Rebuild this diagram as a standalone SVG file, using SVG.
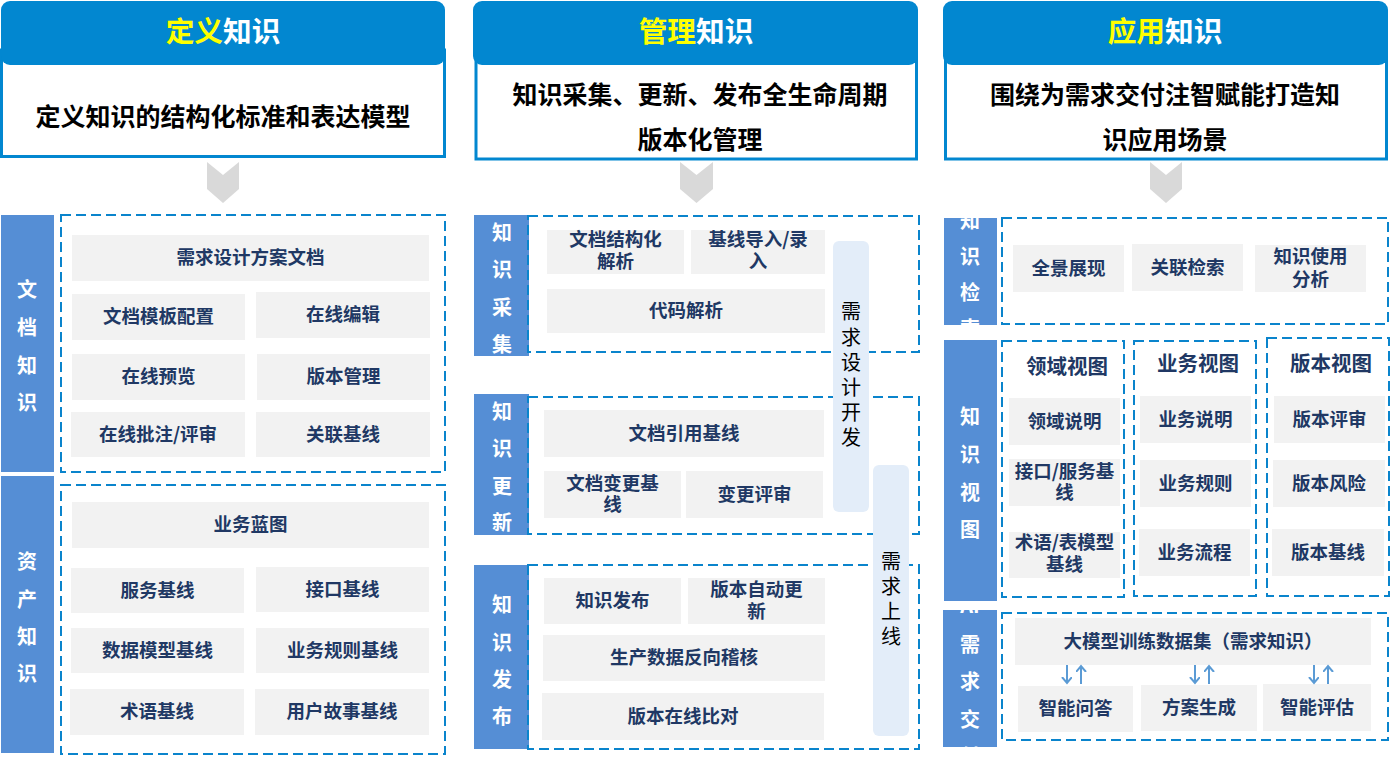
<svg xmlns="http://www.w3.org/2000/svg" width="1395" height="773" viewBox="0 0 1395 773">
<style>
text{font-family:"Noto Sans CJK SC","Noto Sans",sans-serif;transform:translateY(-2px)}
.hdr{fill:#0287D0}
.sub{fill:#fff;stroke:#0287D0;stroke-width:3}
.ttl{font-size:28.7px;font-weight:bold;fill:#fff;text-anchor:middle;dominant-baseline:central}
.yl{fill:#FFFF00}
.st{font-size:25px;font-weight:bold;fill:#000;text-anchor:middle;dominant-baseline:central}
.chev{fill:#D9D9D9}
.bar{fill:#558ED5}
.bt{font-size:20px;font-weight:bold;fill:#fff;text-anchor:middle;dominant-baseline:central}
.dash{fill:none;stroke:#0A84CC;stroke-width:2;stroke-dasharray:10 5}
.box{fill:#F2F2F2}
.bx{font-size:18.5px;font-weight:bold;fill:#203864;text-anchor:middle;dominant-baseline:central}
.vh{font-size:20.5px;font-weight:bold;fill:#203864;text-anchor:middle;dominant-baseline:central}
.lb{fill:#E3EDF9}
.lt{font-size:20px;fill:#000;text-anchor:middle;dominant-baseline:central}
.arr{stroke:#5B9BD5;stroke-width:2;fill:none;marker-end:url(#ah)}
</style>
<defs>
<marker id="ah" markerUnits="userSpaceOnUse" markerWidth="12" markerHeight="12" refX="6" refY="5" orient="auto">
<path d="M0,0 L6,5 L0,10" fill="none" stroke="#5B9BD5" stroke-width="2"/>
</marker>
<clipPath id="c1"><rect x="474" y="217" width="55" height="141"/></clipPath>
<clipPath id="c2"><rect x="944" y="220" width="53" height="107"/></clipPath>
<clipPath id="c3"><rect x="943" y="612" width="54" height="137"/></clipPath>
</defs>
<rect width="1395" height="773" fill="#fff"/>

<!-- Column 1 header -->
<g id="define-header">
<rect class="sub" x="1.5" y="50" width="443" height="106.5"/>
<rect class="hdr" x="1" y="1" width="444" height="64" rx="9"/>
<text class="ttl" x="223" y="31"><tspan class="yl">定义</tspan>知识</text>
<text class="st" x="223" y="117">定义知识的结构化标准和表达模型</text>
</g>
<polygon id="chev1" class="chev" points="207,162 223,175 239,162 239,189 223,203 207,189"/>

<!-- Column 2 header -->
<g id="manage-header">
<rect class="sub" x="476" y="50" width="440.5" height="109"/>
<rect class="hdr" x="473" y="1" width="445" height="64" rx="9"/>
<text class="ttl" x="696" y="31"><tspan class="yl">管理</tspan>知识</text>
<text class="st" x="700" y="95">知识采集、更新、发布全生命周期</text>
<text class="st" x="700" y="140">版本化管理</text>
</g>
<polygon id="chev2" class="chev" points="680,162 696.5,175 713,162 713,189 696.5,203 680,189"/>

<!-- Column 3 header -->
<g id="apply-header">
<rect class="sub" x="945.5" y="50" width="441" height="109"/>
<rect class="hdr" x="943" y="1" width="445" height="64" rx="9"/>
<text class="ttl" x="1165" y="31"><tspan class="yl">应用</tspan>知识</text>
<text class="st" x="1165" y="95">围绕为需求交付注智赋能打造知</text>
<text class="st" x="1165" y="140">识应用场景</text>
</g>
<polygon id="chev3" class="chev" points="1150,162 1166,175 1182,162 1182,189 1166,203 1150,189"/>

<!-- 文档知识 -->
<g id="doc-knowledge">
<rect class="bar" x="1" y="215" width="53" height="257"/>
<text class="bt" x="27"><tspan x="27" y="290">文</tspan><tspan x="27" y="328">档</tspan><tspan x="27" y="366">知</tspan><tspan x="27" y="403">识</tspan></text>
<rect class="dash" x="61" y="215" width="384" height="257"/>
<rect class="box" x="72" y="235" width="357" height="46"/><text class="bx" x="250.5" y="258">需求设计方案文档</text>
<rect class="box" x="72" y="294" width="173" height="46"/><text class="bx" x="158.5" y="317">文档模板配置</text>
<rect class="box" x="256" y="292" width="174" height="46"/><text class="bx" x="343" y="315">在线编辑</text>
<rect class="box" x="72" y="354" width="173" height="46"/><text class="bx" x="158.5" y="377">在线预览</text>
<rect class="box" x="257" y="354" width="173" height="46"/><text class="bx" x="343.5" y="377">版本管理</text>
<rect class="box" x="71" y="412" width="174" height="45"/><text class="bx" x="158" y="434.5">在线批注/评审</text>
<rect class="box" x="256" y="412" width="174" height="45"/><text class="bx" x="343" y="434.5">关联基线</text>
</g>

<!-- 资产知识 -->
<g id="asset-knowledge">
<rect class="bar" x="1" y="476" width="53" height="277"/>
<text class="bt" x="27"><tspan x="27" y="562">资</tspan><tspan x="27" y="600">产</tspan><tspan x="27" y="637">知</tspan><tspan x="27" y="674">识</tspan></text>
<rect class="dash" x="61" y="485" width="384" height="269"/>
<rect class="box" x="72" y="502" width="357" height="46"/><text class="bx" x="250.5" y="525">业务蓝图</text>
<rect class="box" x="71" y="568" width="173" height="45"/><text class="bx" x="157.5" y="590.5">服务基线</text>
<rect class="box" x="256" y="567" width="173" height="45"/><text class="bx" x="342.5" y="589.5">接口基线</text>
<rect class="box" x="71" y="628" width="173" height="45"/><text class="bx" x="157.5" y="650.5">数据模型基线</text>
<rect class="box" x="256" y="628" width="173" height="45"/><text class="bx" x="342.5" y="650.5">业务规则基线</text>
<rect class="box" x="70" y="689" width="174" height="46"/><text class="bx" x="157" y="712">术语基线</text>
<rect class="box" x="255" y="689" width="174" height="46"/><text class="bx" x="342" y="712">用户故事基线</text>
</g>

<!-- 知识采集 -->
<g id="collect">
<rect class="bar" x="474" y="215" width="55" height="141"/>
<text class="bt" clip-path="url(#c1)"><tspan x="502" y="233">知</tspan><tspan x="502" y="270">识</tspan><tspan x="502" y="308">采</tspan><tspan x="502" y="345">集</tspan></text>
<rect class="dash" x="528" y="216" width="391" height="136"/>
<rect class="box" x="547" y="230" width="137" height="44"/><text class="bx"><tspan x="615.5" y="240">文档结构化</tspan><tspan x="615.5" y="262">解析</tspan></text>
<rect class="box" x="691" y="230" width="134" height="44"/><text class="bx"><tspan x="758" y="240">基线导入/录</tspan><tspan x="758" y="262">入</tspan></text>
<rect class="box" x="547" y="289" width="278" height="44"/><text class="bx" x="686" y="311">代码解析</text>
</g>

<!-- 知识更新 -->
<g id="update">
<rect class="bar" x="474" y="394" width="55" height="141"/>
<text class="bt"><tspan x="502" y="412">知</tspan><tspan x="502" y="449">识</tspan><tspan x="502" y="487">更</tspan><tspan x="502" y="523">新</tspan></text>
<rect class="dash" x="528" y="397" width="391" height="137"/>
<rect class="box" x="544" y="410" width="280" height="47"/><text class="bx" x="684" y="433.5">文档引用基线</text>
<rect class="box" x="544" y="471" width="137" height="47"/><text class="bx"><tspan x="612.5" y="484">文档变更基</tspan><tspan x="612.5" y="505">线</tspan></text>
<rect class="box" x="686" y="471" width="137" height="47"/><text class="bx" x="754.5" y="494.5">变更评审</text>
</g>

<!-- 知识发布 -->
<g id="publish">
<rect class="bar" x="474" y="565" width="55" height="184"/>
<text class="bt"><tspan x="502" y="605">知</tspan><tspan x="502" y="643">识</tspan><tspan x="502" y="680">发</tspan><tspan x="502" y="717">布</tspan></text>
<rect class="dash" x="528" y="565" width="391" height="184"/>
<rect class="box" x="544" y="578" width="137" height="46"/><text class="bx" x="612.5" y="601">知识发布</text>
<rect class="box" x="688" y="578" width="137" height="46"/><text class="bx"><tspan x="756.5" y="590">版本自动更</tspan><tspan x="756.5" y="612">新</tspan></text>
<rect class="box" x="543" y="635" width="282" height="46"/><text class="bx" x="684" y="658">生产数据反向稽核</text>
<rect class="box" x="542" y="693" width="282" height="47"/><text class="bx" x="683" y="716.5">版本在线比对</text>
</g>

<!-- 需求设计开发 / 需求上线 -->
<g id="req-dev">
<rect class="lb" x="833" y="241" width="36" height="271" rx="6"/>
<text class="lt"><tspan x="851" y="312">需</tspan><tspan x="851" y="338">求</tspan><tspan x="851" y="363">设</tspan><tspan x="851" y="388">计</tspan><tspan x="851" y="413">开</tspan><tspan x="851" y="438">发</tspan></text>
</g>
<g id="req-online">
<rect class="lb" x="873" y="465" width="36" height="271" rx="6"/>
<text class="lt"><tspan x="891" y="562">需</tspan><tspan x="891" y="587">求</tspan><tspan x="891" y="612">上</tspan><tspan x="891" y="637">线</tspan></text>
</g>

<!-- 知识检索 -->
<g id="search">
<rect class="bar" x="944" y="218" width="53" height="107"/>
<text class="bt" clip-path="url(#c2)"><tspan x="970" y="221">知</tspan><tspan x="970" y="257">识</tspan><tspan x="970" y="293">检</tspan><tspan x="970" y="329">索</tspan></text>
<rect class="dash" x="1002" y="218" width="386" height="106"/>
<rect class="box" x="1013" y="245" width="111" height="47"/><text class="bx" x="1068.5" y="268.5">全景展现</text>
<rect class="box" x="1132" y="244" width="111" height="47"/><text class="bx" x="1187.5" y="267.5">关联检索</text>
<rect class="box" x="1255" y="245" width="111" height="47"/><text class="bx"><tspan x="1310.5" y="257">知识使用</tspan><tspan x="1310.5" y="280">分析</tspan></text>
</g>

<!-- 知识视图 -->
<g id="views">
<rect class="bar" x="944" y="340" width="53" height="261"/>
<text class="bt"><tspan x="970" y="417">知</tspan><tspan x="970" y="455">识</tspan><tspan x="970" y="493">视</tspan><tspan x="970" y="530">图</tspan></text>
</g>
<g id="domain-view">
<rect class="dash" x="1002" y="341" width="122" height="256"/>
<text class="vh" x="1067" y="367">领域视图</text>
<rect class="box" x="1009" y="398" width="111" height="47"/><text class="bx" x="1064.5" y="421.5">领域说明</text>
<rect class="box" x="1009" y="459" width="111" height="47"/><text class="bx"><tspan x="1064.5" y="472">接口/服务基</tspan><tspan x="1064.5" y="493">线</tspan></text>
<rect class="box" x="1009" y="532" width="111" height="46"/><text class="bx"><tspan x="1064.5" y="543">术语/表模型</tspan><tspan x="1064.5" y="565">基线</tspan></text>
</g>
<g id="business-view">
<rect class="dash" x="1134" y="341" width="122" height="255"/>
<text class="vh" x="1198" y="364">业务视图</text>
<rect class="box" x="1140" y="396" width="111" height="47"/><text class="bx" x="1195.5" y="419.5">业务说明</text>
<rect class="box" x="1140" y="460" width="111" height="47"/><text class="bx" x="1195.5" y="483.5">业务规则</text>
<rect class="box" x="1139" y="529" width="111" height="47"/><text class="bx" x="1194.5" y="552.5">业务流程</text>
</g>
<g id="version-view">
<rect class="dash" x="1267" y="338" width="122" height="258"/>
<text class="vh" x="1331" y="364">版本视图</text>
<rect class="box" x="1274" y="396" width="111" height="47"/><text class="bx" x="1329.5" y="419.5">版本评审</text>
<rect class="box" x="1273" y="460" width="112" height="47"/><text class="bx" x="1329" y="483.5">版本风险</text>
<rect class="box" x="1272" y="529" width="112" height="47"/><text class="bx" x="1328" y="552.5">版本基线</text>
</g>

<!-- AI需求交付 -->
<g id="ai-delivery">
<rect class="bar" x="943" y="610" width="54" height="137"/>
<text class="bt" clip-path="url(#c3)"><tspan x="970" y="606">AI</tspan><tspan x="970" y="645">需</tspan><tspan x="970" y="682">求</tspan><tspan x="970" y="720">交</tspan><tspan x="970" y="757">付</tspan></text>
<rect class="dash" x="1002" y="613" width="386" height="127"/>
</g>
<g id="dataset">
<rect class="box" x="1015" y="618" width="356" height="47"/><text class="bx" x="1193" y="641.5">大模型训练数据集（需求知识）</text>
</g>
<g id="qa">
<rect class="box" x="1018" y="686" width="115" height="46"/><text class="bx" x="1075.5" y="709">智能问答</text>
</g>
<g id="solution">
<rect class="box" x="1141" y="685" width="116" height="46"/><text class="bx" x="1199" y="708">方案生成</text>
</g>
<g id="evaluate">
<rect class="box" x="1263" y="684" width="108" height="47"/><text class="bx" x="1317" y="707.5">智能评估</text>
</g>

<g id="connectors">
<line class="arr" x1="1067" y1="665" x2="1067" y2="683"/>
<line class="arr" x1="1081" y1="684" x2="1081" y2="666"/>
<line class="arr" x1="1195" y1="665" x2="1195" y2="683"/>
<line class="arr" x1="1209" y1="684" x2="1209" y2="666"/>
<line class="arr" x1="1314" y1="665" x2="1314" y2="683"/>
<line class="arr" x1="1328" y1="684" x2="1328" y2="666"/>
</g>
</svg>
